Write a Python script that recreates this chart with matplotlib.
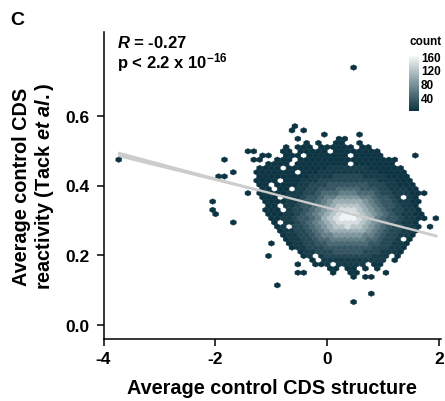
import numpy as np
import matplotlib
matplotlib.use("Agg")
import matplotlib.pyplot as plt
from matplotlib.colors import LinearSegmentedColormap, Normalize

# ---------------- data ----------------
# hexagon counts, one string per hexagon row, top row first.
# '.' = empty cell, other characters are count levels (see level_chars / level_counts)
hex_rows = [
    "..............1.........................",
    "..............1.1.......................",
    "...................1.....1..............",
    "...............1......11................",
    "................1.1..11..1..............",
    ".............1.111.111111.11............",
    "......11....11.11111.11111111...........",
    ".........11..111.1111111.11111.....1....",
    "..1....11..111.11111111111111111........",
    "..........1111.111111111.1111111........",
    "........1111.11111112222222111111.......",
    "....1...1111111.111222222222211111......",
    ".11.....11111111122223333322221111......",
    "........1111.1112223333333333222111.....",
    "........11.111122333444444433322111.....",
    ".........11.11.223344455554443322211....",
    "......1.11111222334555666555433222111...",
    ".........111.22234456677776654432.21....",
    "1........111122344567888887654432211....",
    "..........11.22344567899998765443221....",
    "1........111.233456789aaa98765433221....",
    ".1........111223456789abba98765432211...",
    "..........11223445689abbba98654432211.1.",
    "....1......1.223456789aaaa9876543221....",
    "...........12.334567899a998765433221.1..",
    "............122334567888888765433221....",
    "............12233456677777665433221.....",
    ".............12233455666666554332.1.....",
    "..........1..122334455555554433221......",
    "..............12233344444444333221......",
    "...............122333444443332221.......",
    "..........1.....12.233333333222.1.......",
    ".................1.22222222222.1........",
    "...............1..112.22222.11..........",
    "....................11.11.1.1...........",
    "...............11....1..11....1.........",
    "........................1.11............",
    "........................................",
    "...........1............................",
    "........................................",
    "...........................1............",
    "........................................",
    "........................1...............",
    "........................................",
]
level_chars = "123456789ab"
level_counts = [2, 8, 18, 30, 45, 62, 80, 100, 120, 140, 158]

# isolated points far from the main cloud (x, y, count)
outlier_x = [-3.726, 0.44]
outlier_y = [0.4785, 0.739]
outlier_c = [1, 1]

# linear fit shown on the chart
fit_intercept = 0.3364
fit_slope = -0.0412
fit_xrange = [-3.745, 1.96]
ci_x = [-3.745, -1.5, 0.3, 1.96]
ci_half = [0.008, 0.004, 0.0025, 0.004]

x_ticks = [-4, -2, 0, 2]
y_ticks = [0.0, 0.2, 0.4, 0.6]
cbar_ticks = [40, 80, 120, 160]

# ---------------- hex lattice geometry ----------------
X0, SX = -3.78, 0.105        # lattice origin / horizontal spacing
Y0, DY = 0.054, 0.012        # lattice origin / row spacing
COL0 = 16                    # first column of the strings
NX, NY = 56, 30

hx, hy, hc = [], [], []
nrows = len(hex_rows)
for k, row in enumerate(hex_rows):
    r = nrows - 1 - k
    row = row.ljust(40, ".")[:40]
    for j, ch in enumerate(row):
        if ch in level_chars:
            i = COL0 + j
            hx.append(X0 + (i + 0.5 * (r % 2)) * SX)
            hy.append(Y0 + r * DY)
            hc.append(level_counts[level_chars.index(ch)])
hx += outlier_x
hy += outlier_y
hc += outlier_c

# ---------------- style ----------------
plt.rcParams['font.family'] = ['Liberation Sans', 'DejaVu Sans']
plt.rcParams['font.weight'] = 'bold'
plt.rcParams['axes.unicode_minus'] = False
plt.rcParams['mathtext.fontset'] = 'custom'
plt.rcParams['mathtext.rm'] = 'Liberation Sans:bold'
plt.rcParams['mathtext.it'] = 'Liberation Sans:italic:bold'
plt.rcParams['mathtext.bf'] = 'Liberation Sans:bold'
plt.rcParams['mathtext.default'] = 'rm'

W, H = 445, 402
fig = plt.figure(figsize=(W / 100, H / 100), dpi=100)
ax = fig.add_axes([103.5 / W, 1 - 340 / H, (441 - 103.5) / W, (340 - 33) / H])

cmap = LinearSegmentedColormap.from_list("hexc", ["#0c3341", "#7d959c", "#f4f6f7"])
hb = ax.hexbin(hx, hy, C=hc, reduce_C_function=np.sum, gridsize=(NX, NY),
               extent=(X0, X0 + NX * SX, Y0, Y0 + NY * 2 * DY),
               cmap=cmap, norm=Normalize(1, 160), edgecolors='face',
               linewidths=0.3, zorder=2)

fx = np.array(fit_xrange)
ax.fill_between(ci_x, [fit_intercept + fit_slope * v - h for v, h in zip(ci_x, ci_half)],
                [fit_intercept + fit_slope * v + h for v, h in zip(ci_x, ci_half)],
                color="#9a9a9a", alpha=0.5, lw=0, zorder=3)
ax.plot(fx, fit_intercept + fit_slope * fx, color="#cdcdcd", lw=1.6, zorder=4,
        solid_capstyle='butt')

ax.set_xlim(-4.0, 2.034)
ax.set_ylim(-0.04, 0.84)
ax.set_xticks(x_ticks)
ax.set_xticklabels([f"{v:d}" for v in x_ticks])
ax.set_yticks(y_ticks)
ax.set_yticklabels([f"{v:.1f}" for v in y_ticks])
for s in ['top', 'right']:
    ax.spines[s].set_visible(False)
for s in ['left', 'bottom']:
    ax.spines[s].set_linewidth(1.1)
ax.tick_params(axis='both', length=5, width=1.1, labelsize=12.5, color='black')
ax.tick_params(axis='y', pad=5)
ax.tick_params(axis='x', pad=3.5)
for t in ax.get_xticklabels() + ax.get_yticklabels():
    t.set_fontweight('bold')

fig.text(272 / W, 1 - 394 / H, "Average control CDS structure", ha='center',
         va='baseline', fontsize=14.3, fontweight='bold')
fig.text(34 / W, 1 - 186.5 / H,
         "Average control CDS\nreactivity (Tack $\\mathit{et\\ al.}$)",
         rotation=90, ha='center', va='center', multialignment='center',
         fontsize=14.3, fontweight='bold', linespacing=1.1)
fig.text(10 / W, 1 - 25 / H, "C", ha='left', va='baseline', fontsize=14,
         fontweight='bold')
fig.text(117 / W, 1 - 35 / H, "$\\mathit{R}$ = -0.27\np < 2.2 x 10$^{-16}$",
         ha='left', va='top', multialignment='left', fontsize=12,
         fontweight='bold', linespacing=1.0)

# colour bar
cax = fig.add_axes([409 / W, 1 - 111.7 / H, 10 / W, 54.4 / H])
cb = fig.colorbar(hb, cax=cax, ticks=cbar_ticks)
cb.outline.set_visible(False)
cax.tick_params(length=0, labelsize=8.5, pad=1.5)
for t in cax.get_yticklabels():
    t.set_fontweight('bold')
fig.text(409 / W, 1 - 45 / H, "count", ha='left', va='baseline', fontsize=8.5,
         fontweight='bold')

fig.savefig("out.png", dpi=100)
